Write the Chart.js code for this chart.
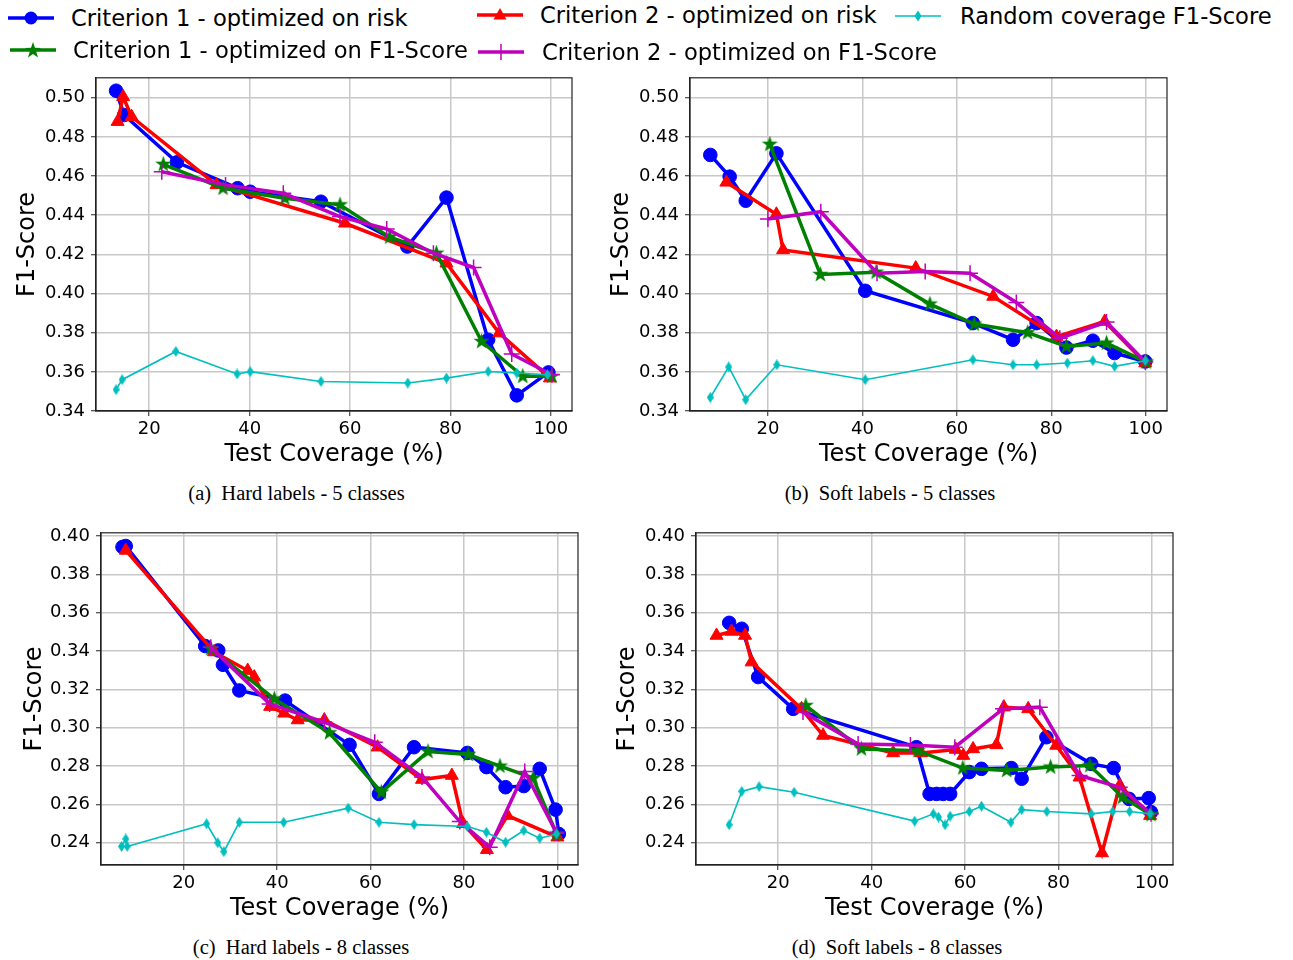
<!DOCTYPE html>
<html>
<head>
<meta charset="utf-8">
<script src="https://cdn.jsdelivr.net/npm/chart.js@4.4.0/dist/chart.umd.min.js"></script>
<style>
  body { margin: 0; background: #fff; width: 1293px; height: 960px; position: relative; overflow: hidden; font-family: 'DejaVu Sans', sans-serif; }
  canvas.panel { position: absolute; }
  .legsym { position: absolute; }
  .legtxt { position: absolute; font-size: 22.6px; line-height: 26px; white-space: nowrap; color: #000; }
  .cap { position: absolute; font-family: 'Liberation Serif', serif; font-size: 20.5px; line-height: 24px; white-space: pre; transform: translateX(-50%); color: #000; }
</style>
</head>
<body>
<script>
// (a) hard labels - 5 classes
const hard5Crit1Risk = [[13.4,0.5036],[15.0,0.4912],[25.5,0.467],[37.6,0.4538],[40.1,0.452],[54.2,0.4469],[71.4,0.424],[79.2,0.449],[87.5,0.3764],[93.2,0.348],[99.5,0.3597]];
const hard5Crit1F1 = [[22.8,0.466],[34.7,0.4538],[47.0,0.4487],[58.0,0.4453],[67.9,0.4288],[77.2,0.4206],[86.2,0.3755],[94.4,0.3577],[100.2,0.3577]];
const hard5Crit2Risk = [[13.7,0.4878],[14.8,0.5005],[16.5,0.4903],[33.4,0.4555],[59.0,0.4359],[79.2,0.4155],[89.7,0.3798],[99.8,0.3568]];
const hard5Crit2F1 = [[22.5,0.4622],[35.2,0.4555],[46.7,0.4512],[58.0,0.4393],[67.3,0.433],[76.6,0.4206],[84.6,0.4133],[92.2,0.3691],[100.2,0.3585]];
const hard5Random = [[13.4,0.3509],[14.6,0.356],[25.3,0.3704],[37.5,0.3589],[40.1,0.3601],[54.2,0.3551],[71.5,0.3543],[79.2,0.3568],[87.5,0.3602],[93.2,0.3594],[99.3,0.3585]];

// (b) soft labels - 5 classes
const soft5Crit1Risk = [[7.8,0.4708],[11.9,0.4597],[15.3,0.4474],[21.8,0.4716],[40.6,0.4014],[63.4,0.3849],[71.9,0.3764],[76.9,0.3849],[83.2,0.3724],[88.8,0.3759],[93.4,0.3696],[99.9,0.3653]];
const soft5Crit1F1 = [[20.4,0.4762],[31.1,0.4097],[42.9,0.4109],[54.3,0.3946],[63.7,0.3844],[75.0,0.380],[83.2,0.373],[91.7,0.3747],[100.1,0.365]];
const soft5Crit2Risk = [[11.2,0.4568],[21.8,0.4405],[23.2,0.4223],[51.3,0.413],[67.7,0.3985],[81.1,0.378],[91.3,0.3857],[99.9,0.3645]];
const soft5Crit2F1 = [[20.0,0.4381],[31.2,0.4418],[43.1,0.4104],[53.3,0.4112],[62.8,0.4104],[72.6,0.3954],[81.8,0.3772],[91.7,0.3854],[99.9,0.365]];
const soft5Random = [[7.8,0.3469],[11.7,0.3625],[15.3,0.3458],[21.9,0.3636],[40.6,0.356],[63.4,0.3662],[71.9,0.3636],[76.9,0.3636],[83.4,0.3645],[88.8,0.3657],[93.4,0.3628],[99.9,0.3657]];

// (c) hard labels - 8 classes
const hard8Crit1Risk = [[6.9,0.3943],[7.6,0.3948],[24.6,0.3426],[27.4,0.3403],[28.4,0.3328],[31.9,0.3194],[41.7,0.3141],[55.5,0.291],[61.8,0.2654],[69.3,0.2898],[80.7,0.2868],[84.8,0.2794],[88.9,0.2689],[92.8,0.2695],[96.2,0.2785],[99.6,0.2572],[100.3,0.2445]];
const hard8Crit1F1 = [[25.8,0.3412],[39.4,0.315],[51.2,0.2973],[62.3,0.2663],[72.3,0.2875],[80.9,0.286],[87.7,0.2799],[94.8,0.2736],[99.8,0.2445]];
const hard8Crit2Risk = [[7.6,0.3925],[26.5,0.3395],[33.7,0.3298],[35.1,0.3264],[38.5,0.311],[41.5,0.3075],[44.4,0.304],[50.1,0.304],[61.5,0.2898],[71.0,0.2729],[77.4,0.275],[79.8,0.2498],[84.9,0.2363],[89.3,0.2541],[100,0.2428]];
const hard8Crit2F1 = [[25.8,0.342],[38.4,0.3124],[50.1,0.3029],[60.9,0.2924],[71.0,0.2742],[79.1,0.251],[85.5,0.2376],[93.0,0.2771],[99.8,0.245]];
const hard8Random = [[6.7,0.238],[7.6,0.2419],[7.9,0.238],[24.9,0.2498],[27.3,0.2399],[28.6,0.2353],[31.9,0.2506],[41.4,0.2506],[55.2,0.258],[61.8,0.2506],[69.3,0.2494],[80.7,0.2484],[84.8,0.2454],[88.9,0.2402],[92.8,0.2463],[96.2,0.2423],[99.8,0.2445]];

// (d) soft labels - 8 classes
const soft8Crit1Risk = [[9.5,0.3547],[12.2,0.3516],[15.7,0.3264],[23.2,0.3098],[49.6,0.2898],[52.4,0.2654],[53.9,0.2654],[55.3,0.2654],[56.8,0.2654],[60.9,0.2768],[63.5,0.2785],[69.9,0.2789],[72.1,0.2733],[77.4,0.295],[87.0,0.2811],[91.8,0.2789],[95.1,0.2628],[99.3,0.2632],[99.8,0.2559]];
const soft8Crit1F1 = [[25.9,0.3115],[37.8,0.2889],[49.9,0.288],[59.5,0.2789],[68.9,0.2776],[78.3,0.2794],[86.7,0.2802],[93.7,0.2637],[99.8,0.2545]];
const soft8Crit2Risk = [[6.8,0.3481],[10.0,0.3502],[12.9,0.3481],[14.3,0.3342],[25.0,0.3098],[29.6,0.2959],[44.6,0.2868],[50.6,0.2868],[58.0,0.2886],[59.6,0.2854],[61.7,0.2889],[66.7,0.291],[68.3,0.3107],[73.5,0.3098],[79.5,0.2907],[84.5,0.2741],[89.3,0.2346],[93.1,0.2698],[99.6,0.2541]];
const soft8Crit2F1 = [[25.3,0.3081],[37.1,0.2915],[48.3,0.291],[57.8,0.2898],[68.1,0.3098],[76.0,0.3107],[84.5,0.275],[93.1,0.2689],[99.8,0.255]];
const soft8Random = [[9.5,0.2493],[12.2,0.2667],[15.9,0.2692],[23.4,0.2663],[49.2,0.2512],[53.2,0.255],[54.3,0.2533],[55.7,0.2493],[56.8,0.2538],[60.9,0.2562],[63.5,0.259],[69.8,0.2506],[72.1,0.2572],[77.5,0.2562],[87.0,0.255],[91.6,0.2562],[95.2,0.2562],[99.6,0.255]];

const seriesNames = ['Criterion 1 - optimized on risk', 'Criterion 1 - optimized on F1-Score', 'Criterion 2 - optimized on risk', 'Criterion 2 - optimized on F1-Score', 'Random coverage F1-Score'];
const captions = ['(a)  Hard labels - 5 classes', '(b)  Soft labels - 5 classes', '(c)  Hard labels - 8 classes', '(d)  Soft labels - 8 classes'];
const xTitle = 'Test Coverage (%)';
const yTitle = 'F1-Score';

const BLUE = '#0000ff', GREEN = '#008000', RED = '#ff0000', MAGENTA = '#bf00bf', CYAN = '#00bfbf';

// custom markers (filled star, thin diamond)
function starMarker(color, r) {
  const s = Math.ceil(r * 2 + 2);
  const c = document.createElement('canvas');
  c.width = c.height = s;
  const g = c.getContext('2d');
  g.fillStyle = color;
  g.beginPath();
  for (let i = 0; i < 10; i++) {
    const rr = i % 2 ? r * 0.4 : r;
    const a = -Math.PI / 2 + i * Math.PI / 5;
    g.lineTo(s / 2 + rr * Math.cos(a), s / 2 + rr * Math.sin(a));
  }
  g.closePath();
  g.fill();
  return c;
}
function thinDiamond(color, w, h) {
  const c = document.createElement('canvas');
  c.width = w; c.height = h;
  const g = c.getContext('2d');
  g.fillStyle = color;
  g.beginPath();
  g.moveTo(w / 2, 0); g.lineTo(w, h / 2); g.lineTo(w / 2, h); g.lineTo(0, h / 2);
  g.closePath();
  g.fill();
  return c;
}
const greenStar = starMarker(GREEN, 8.5);
const cyanDiamond = thinDiamond(CYAN, 7, 11);

const framePlugin = {
  id: 'frame',
  afterDraw(chart) {
    const { ctx, chartArea: a } = chart;
    ctx.save();
    ctx.strokeStyle = '#222';
    ctx.lineWidth = 1.2;
    ctx.strokeRect(a.left, a.top, a.right - a.left, a.bottom - a.top);
    ctx.restore();
  }
};

function toPts(arr) { return arr.map(p => ({ x: p[0], y: p[1] })); }

function makePanel(box, xRange, yRange, sets, yTitlePad) {
  const cv = document.createElement('canvas');
  cv.className = 'panel';
  cv.width = box.w; cv.height = box.h;
  cv.style.left = box.left + 'px'; cv.style.top = box.top + 'px';
  cv.style.width = box.w + 'px'; cv.style.height = box.h + 'px';
  document.body.appendChild(cv);

  const [c1r, c1f, c2r, c2f, rnd] = sets;
  const datasets = [
    { label: seriesNames[4], data: toPts(rnd), borderColor: CYAN, backgroundColor: CYAN, borderWidth: 1.6, pointStyle: cyanDiamond, order: 0 },
    { label: seriesNames[3], data: toPts(c2f), borderColor: MAGENTA, backgroundColor: MAGENTA, borderWidth: 3.5, pointStyle: 'cross', pointRadius: 8, pointBorderWidth: 1.5, order: 1 },
    { label: seriesNames[1], data: toPts(c1f), borderColor: GREEN, backgroundColor: GREEN, borderWidth: 3.5, pointStyle: greenStar, order: 2 },
    { label: seriesNames[2], data: toPts(c2r), borderColor: RED, backgroundColor: RED, borderWidth: 3.5, pointStyle: 'triangle', pointRadius: 7.5, pointBorderWidth: 1, order: 3 },
    { label: seriesNames[0], data: toPts(c1r), borderColor: BLUE, backgroundColor: BLUE, borderWidth: 3.5, pointStyle: 'circle', pointRadius: 6.8, pointBorderWidth: 1, order: 4 }
  ].map(d => Object.assign({ showLine: true, tension: 0, pointHoverRadius: d.pointRadius }, d));

  new Chart(cv, {
    type: 'scatter',
    data: { datasets },
    options: {
      responsive: false,
      animation: false,
      devicePixelRatio: 1,
      layout: { padding: { top: box.padTop, right: box.padRight, left: 0, bottom: 0 } },
      plugins: { legend: { display: false }, tooltip: { enabled: false } },
      scales: {
        x: {
          type: 'linear', min: xRange[0], max: xRange[1],
          afterFit: s => { s.height = box.xh; },
          ticks: { stepSize: 20, includeBounds: false, color: '#000', font: { size: 18 }, padding: 3, maxRotation: 0, autoSkip: false },
          grid: { color: '#c8c8c8', lineWidth: 1.5, tickLength: 5, tickColor: '#222', tickWidth: 1 },
          border: { color: '#222', width: 1.2 },
          title: { display: true, text: xTitle, color: '#000', font: { size: 24 }, padding: { top: 0, bottom: 10.6 } }
        },
        y: {
          type: 'linear', min: yRange[0], max: yRange[1],
          afterFit: s => { s.width = box.yw; },
          ticks: { stepSize: 0.02, includeBounds: false, color: '#000', font: { size: 18 }, padding: 6, callback: v => v.toFixed(2) },
          grid: { color: '#c8c8c8', lineWidth: 1.5, tickLength: 5, tickColor: '#222', tickWidth: 1 },
          border: { color: '#222', width: 1.2 },
          title: { display: true, text: yTitle, color: '#000', font: { size: 24 }, padding: { top: yTitlePad, bottom: 0 } }
        }
      }
    },
    plugins: [framePlugin]
  });
}

Chart.defaults.font.family = "'DejaVu Sans'";

makePanel({ left: 0, top: 61, w: 620, h: 419, yw: 96, xh: 69, padTop: 16, padRight: 48 }, [9.4, 104.2], [0.34, 0.5102],
  [hard5Crit1Risk, hard5Crit1F1, hard5Crit2Risk, hard5Crit2F1, hard5Random], 13.6);
makePanel({ left: 600, top: 61, w: 620, h: 419, yw: 90, xh: 69, padTop: 16, padRight: 53 }, [3.5, 104.5], [0.34, 0.5102],
  [soft5Crit1Risk, soft5Crit1F1, soft5Crit2Risk, soft5Crit2F1, soft5Random], 7.6);
makePanel({ left: 0, top: 516, w: 620, h: 418, yw: 101, xh: 69, padTop: 16, padRight: 42 }, [2.3, 104.4], [0.2283, 0.4017],
  [hard8Crit1Risk, hard8Crit1F1, hard8Crit2Risk, hard8Crit2F1, hard8Random], 20.6);
makePanel({ left: 600, top: 516, w: 620, h: 418, yw: 96, xh: 69, padTop: 16, padRight: 47 }, [2.4, 104.5], [0.2283, 0.4017],
  [soft8Crit1Risk, soft8Crit1F1, soft8Crit2Risk, soft8Crit2F1, soft8Random], 13.6);

// legend (symbols as small svgs, labels as text)
function legendSymbol(kind, color) {
  let m = '';
  if (kind === 'circle') m = `<circle cx="23" cy="10" r="6.5" fill="${color}"/>`;
  if (kind === 'triangle') m = `<polygon points="23,3 29.5,14.5 16.5,14.5" fill="${color}"/>`;
  if (kind === 'star') {
    const pts = [];
    for (let i = 0; i < 10; i++) { const rr = i % 2 ? 3.4 : 8.5; const a = -Math.PI / 2 + i * Math.PI / 5; pts.push((23 + rr * Math.cos(a)).toFixed(1) + ',' + (10.5 + rr * Math.sin(a)).toFixed(1)); }
    m = `<polygon points="${pts.join(' ')}" fill="${color}"/>`;
  }
  if (kind === 'cross') m = `<line x1="23" y1="2" x2="23" y2="18" stroke="${color}" stroke-width="1.5"/>`;
  if (kind === 'diamond') m = `<polygon points="23,4.5 26.5,10 23,15.5 19.5,10" fill="${color}"/>`;
  const lw = kind === 'diamond' ? 1.6 : 3.5;
  return `<svg width="46" height="20" viewBox="0 0 46 20"><line x1="0" y1="10" x2="46" y2="10" stroke="${color}" stroke-width="${lw}"/>${m}</svg>`;
}
const legendItems = [
  { name: seriesNames[0], kind: 'circle', color: BLUE, sx: 8, tx: 71, y: 18 },
  { name: seriesNames[1], kind: 'star', color: GREEN, sx: 10, tx: 73, y: 50 },
  { name: seriesNames[2], kind: 'triangle', color: RED, sx: 477, tx: 540, y: 15 },
  { name: seriesNames[3], kind: 'cross', color: MAGENTA, sx: 478, tx: 542, y: 52 },
  { name: seriesNames[4], kind: 'diamond', color: CYAN, sx: 895, tx: 960, y: 16 }
];
legendItems.forEach(it => {
  const s = document.createElement('div');
  s.className = 'legsym';
  s.style.left = it.sx + 'px'; s.style.top = (it.y - 10) + 'px';
  s.innerHTML = legendSymbol(it.kind, it.color);
  document.body.appendChild(s);
  const t = document.createElement('div');
  t.className = 'legtxt';
  t.style.left = it.tx + 'px'; t.style.top = (it.y - 13) + 'px';
  t.textContent = it.name;
  document.body.appendChild(t);
});

// sub-figure captions
const capPos = [[296.5, 493], [890, 493], [301, 947], [897, 947]];
captions.forEach((c, i) => {
  const d = document.createElement('div');
  d.className = 'cap';
  d.style.left = capPos[i][0] + 'px'; d.style.top = (capPos[i][1] - 12) + 'px';
  d.textContent = c;
  document.body.appendChild(d);
});
</script>
</body>
</html>
